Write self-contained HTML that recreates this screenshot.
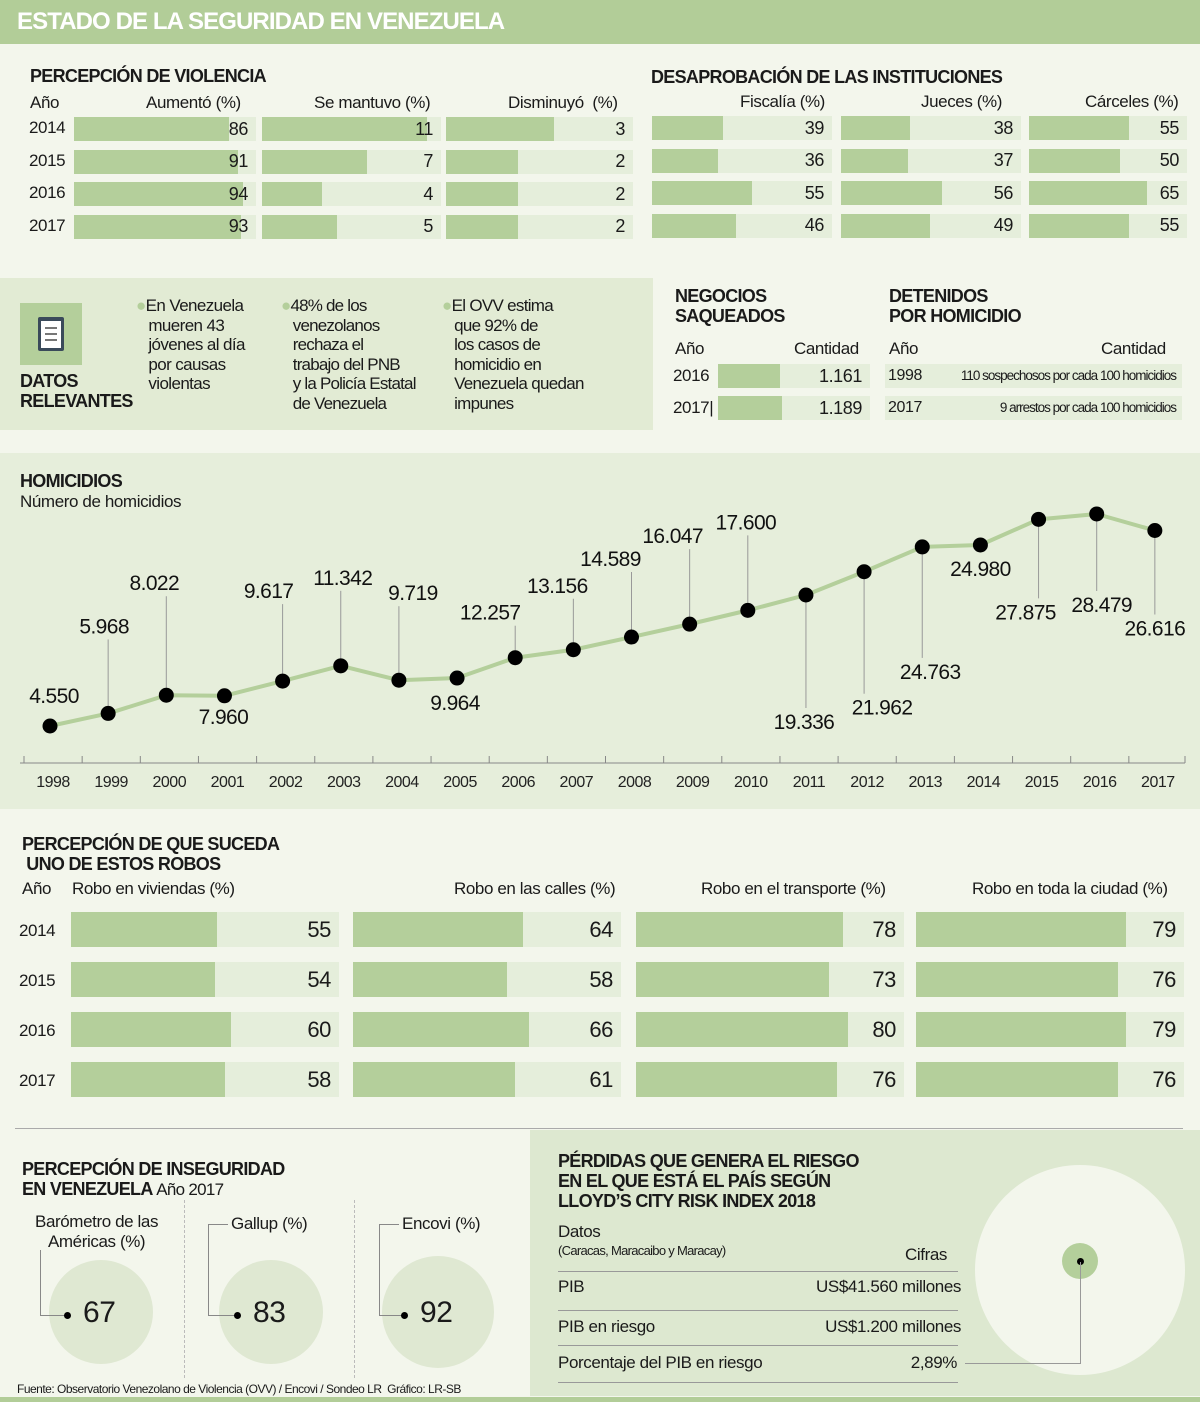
<!DOCTYPE html>
<html><head><meta charset="utf-8">
<style>
*{margin:0;padding:0;box-sizing:border-box}
body{width:1200px;height:1402px;position:relative;background:#f3f6ec;font-family:"Liberation Sans",sans-serif;color:#1a1a1a;overflow:hidden;letter-spacing:-0.4px}
.a{position:absolute;white-space:nowrap}
.t{font-weight:bold;font-size:18px;line-height:20px;letter-spacing:-0.7px}
.h{font-size:17px}
.bar{position:absolute;background:#e5eedb}
.bar .d{position:absolute;left:0;top:0;bottom:0;background:#b4cf9b}
.bar .v{position:absolute;right:6px;top:0;bottom:0;display:flex;align-items:center}
</style></head><body>
<div class="a" style="left:0;top:0;width:1200px;height:44px;background:#b2cd98"></div>
<div class="a" style="left:17px;top:8px;font-size:24px;font-weight:bold;color:#fff;letter-spacing:-0.9px">ESTADO DE LA SEGURIDAD EN VENEZUELA</div>

<div class="a t" style="left:30px;top:66px">PERCEPCIÓN DE VIOLENCIA</div>
<div class="a h" style="left:30px;top:93px">Año</div>
<div class="a h" style="left:146px;top:93px">Aumentó (%)</div>
<div class="a h" style="left:314px;top:93px">Se mantuvo (%)</div>
<div class="a h" style="left:508px;top:93px">Disminuyó &nbsp;(%)</div>
<div class="a t" style="left:651px;top:67px">DESAPROBACIÓN DE LAS INSTITUCIONES</div>
<div class="a h" style="left:740px;top:92px">Fiscalía (%)</div>
<div class="a h" style="left:921px;top:92px">Jueces (%)</div>
<div class="a h" style="left:1085px;top:92px">Cárceles (%)</div>
<div id="topc"></div>

<div class="a" style="left:0;top:278px;width:653px;height:152px;background:#e2ebd4"></div>
<div class="a" style="left:20px;top:303px;width:62px;height:62px;background:#b4cf9b">
<div style="position:absolute;left:18px;top:14px;width:26px;height:34px;background:#3a4a5a;border-radius:2px"></div>
<div style="position:absolute;left:21px;top:18px;width:20px;height:27px;background:#fff"></div>
<div style="position:absolute;left:25px;top:24px;width:12px;height:2px;background:#777"></div>
<div style="position:absolute;left:25px;top:30px;width:12px;height:2px;background:#777"></div>
<div style="position:absolute;left:25px;top:36px;width:12px;height:2px;background:#777"></div></div>
<div class="a t" style="left:20px;top:371px;line-height:20px">DATOS<br>RELEVANTES</div>
<div class="a" style="left:136px;top:296px;font-size:17px;line-height:19.5px;letter-spacing:-0.6px"><span style="color:#b4cf9b">●</span>En Venezuela<br>&nbsp;&nbsp;&nbsp;mueren 43<br>&nbsp;&nbsp;&nbsp;jóvenes al día<br>&nbsp;&nbsp;&nbsp;por causas<br>&nbsp;&nbsp;&nbsp;violentas</div>
<div class="a" style="left:281px;top:296px;font-size:17px;line-height:19.5px;letter-spacing:-0.8px"><span style="color:#b4cf9b">●</span>48% de los<br>&nbsp;&nbsp;&nbsp;venezolanos<br>&nbsp;&nbsp;&nbsp;rechaza el<br>&nbsp;&nbsp;&nbsp;trabajo del PNB<br>&nbsp;&nbsp;&nbsp;y la Policía Estatal<br>&nbsp;&nbsp;&nbsp;de Venezuela</div>
<div class="a" style="left:442px;top:296px;font-size:17px;line-height:19.5px;letter-spacing:-0.7px"><span style="color:#b4cf9b">●</span>El OVV estima<br>&nbsp;&nbsp;&nbsp;que 92% de<br>&nbsp;&nbsp;&nbsp;los casos de<br>&nbsp;&nbsp;&nbsp;homicidio en<br>&nbsp;&nbsp;&nbsp;Venezuela quedan<br>&nbsp;&nbsp;&nbsp;impunes</div>

<div class="a t" style="left:675px;top:286px">NEGOCIOS<br>SAQUEADOS</div>
<div class="a h" style="left:675px;top:339px">Año</div>
<div class="a h" style="left:794px;top:339px">Cantidad</div>
<div class="a h" style="left:673px;top:366px">2016</div>
<div class="a h" style="left:673px;top:398px">2017|</div>
<div id="neg"></div>
<div class="a t" style="left:889px;top:286px">DETENIDOS<br>POR HOMICIDIO</div>
<div class="a h" style="left:889px;top:339px">Año</div>
<div class="a h" style="left:1101px;top:339px">Cantidad</div>
<div class="a" style="left:885px;top:364px;width:297px;height:24px;background:#e5eedb;line-height:24px"><span style="position:absolute;left:3px;font-size:16px">1998</span><span style="position:absolute;right:6px;letter-spacing:-1px;font-size:13.5px">110 sospechosos por cada 100 homicidios</span></div>
<div class="a" style="left:885px;top:396px;width:297px;height:24px;background:#e5eedb;line-height:24px"><span style="position:absolute;left:3px;font-size:16px">2017</span><span style="position:absolute;right:6px;letter-spacing:-1px;font-size:13.5px">9 arrestos por cada 100 homicidios</span></div>

<div class="a" style="left:0;top:453px;width:1200px;height:356px;background:#e6eedb"></div>
<div class="a t" style="left:20px;top:471px">HOMICIDIOS</div>
<div class="a h" style="left:20px;top:492px">Número de homicidios</div>
<svg class="a" id="hsvg" style="left:0;top:0" width="1200" height="1402"></svg>

<div class="a t" style="left:22px;top:834px">PERCEPCIÓN DE QUE SUCEDA<br>&nbsp;UNO DE ESTOS ROBOS</div>
<div class="a h" style="left:22px;top:879px">Año</div>
<div class="a h" style="left:72px;top:879px">Robo en viviendas (%)</div>
<div class="a h" style="left:454px;top:879px">Robo en las calles (%)</div>
<div class="a h" style="left:701px;top:879px">Robo en el transporte (%)</div>
<div class="a h" style="left:972px;top:879px">Robo en toda la ciudad (%)</div>
<div id="robos"></div>
<div class="a" style="left:15px;top:1128px;width:1168px;height:1px;background:#aaa"></div>

<div class="a t" style="left:22px;top:1159px">PERCEPCIÓN DE INSEGURIDAD<br>EN VENEZUELA <span style="font-weight:normal;font-size:17px">Año 2017</span></div>
<div class="a" style="left:184px;top:1200px;height:178px;border-left:1px dashed #bbb"></div>
<div class="a" style="left:354px;top:1200px;height:178px;border-left:1px dashed #bbb"></div>
<div id="ins"></div>
<div class="a" style="left:17px;top:1382px;font-size:12px;letter-spacing:-0.5px">Fuente: Observatorio Venezolano de Violencia (OVV) / Encovi / Sondeo LR &nbsp;Gráfico: LR-SB</div>

<div class="a" style="left:530px;top:1130px;width:670px;height:266px;background:#dde8d0"></div>
<div class="a" style="left:975px;top:1165px;width:210px;height:210px;border-radius:50%;background:#f3f6ec"></div>
<div class="a" style="left:1062px;top:1243px;width:36px;height:36px;border-radius:50%;background:#b4cf9b"></div>
<div class="a" style="left:1077px;top:1258px;width:7px;height:7px;border-radius:50%;background:#000"></div>
<div class="a" style="left:1080px;top:1262px;width:1px;height:101px;background:#999"></div>
<div class="a" style="left:965px;top:1363px;width:116px;height:1px;background:#999"></div>
<div class="a t" style="left:558px;top:1151px">PÉRDIDAS QUE GENERA EL RIESGO<br>EN EL QUE ESTÁ EL PAÍS SEGÚN<br>LLOYD’S CITY RISK INDEX 2018</div>
<div class="a h" style="left:558px;top:1222px">Datos</div>
<div class="a" style="left:558px;top:1243px;font-size:13px;letter-spacing:-0.7px">(Caracas, Maracaibo y Maracay)</div>
<div class="a h" style="left:905px;top:1245px">Cifras</div>
<div class="a" style="left:558px;top:1271px;width:400px;height:1px;background:#999"></div>
<div class="a h" style="left:558px;top:1277px">PIB</div>
<div class="a h" style="right:239px;top:1277px">US$41.560 millones</div>
<div class="a" style="left:558px;top:1310px;width:400px;height:1px;background:#999"></div>
<div class="a h" style="left:558px;top:1317px">PIB en riesgo</div>
<div class="a h" style="right:239px;top:1317px">US$1.200 millones</div>
<div class="a" style="left:558px;top:1345px;width:400px;height:1px;background:#999"></div>
<div class="a h" style="left:558px;top:1353px">Porcentaje del PIB en riesgo</div>
<div class="a h" style="right:243px;top:1353px">2,89%</div>
<div class="a" style="left:558px;top:1382px;width:400px;height:1px;background:#999"></div>
<div class="a" style="left:0;top:1397px;width:1200px;height:5px;background:#b2cd98"></div>

<script>
const topYears=["2014","2015","2016","2017"];
const aumento=[86,91,94,93];
const mantuvo=[11,7,4,5];
const disminuyo=[3,2,2,2];
const fiscalia=[39,36,55,46];
const jueces=[38,37,56,49];
const carceles=[55,50,65,55];
const negYears=["2016","2017"];
const negValues=[1161,1189];
const negLabels=["1.161","1.189"];
const hYears=["1998","1999","2000","2001","2002","2003","2004","2005","2006","2007","2008","2009","2010","2011","2012","2013","2014","2015","2016","2017"];
const hValues=[4550,5968,8022,7960,9617,11342,9719,9964,12257,13156,14589,16047,17600,19336,21962,24763,24980,27875,28479,26616];
const hLabels=["4.550","5.968","8.022","7.960","9.617","11.342","9.719","9.964","12.257","13.156","14.589","16.047","17.600","19.336","21.962","24.763","24.980","27.875","28.479","26.616"];
const roboYears=["2014","2015","2016","2017"];
const viviendas=[55,54,60,58];
const calles=[64,58,66,61];
const transporte=[78,73,80,76];
const ciudad=[79,76,79,76];
const insNames=["Barómetro de las Américas (%)","Gallup (%)","Encovi (%)"];
const insValues=[67,83,92];
// label layout (offsets from the point, not data)
const labelDy=[-23,-80,-105,28,-83,-81,-80,32,-38,-57,-71,-81,-81,134,143,132,31,100,98,105];
const labelDx=[4,-4,-12,-1,-14,2,14,-2,-25,-16,-21,-17,-2,-2,18,8,0,-13,5,0];
const hasLeader=[0,1,1,0,1,1,1,0,1,1,1,1,1,1,1,1,0,1,1,1];

function bar(parent,name,x,y,w,h,val,ppu,label,fs){
  const b=document.createElement('div');b.className='bar';
  
  
  b.style.cssText=`left:${x}px;top:${y}px;width:${w}px;height:${h}px`;
  const d=document.createElement('div');d.className='d';d.style.width=Math.min(w,val*ppu)+'px';
  const v=document.createElement('div');v.className='v';v.textContent=label;v.style.fontSize=fs+'px';
  b.appendChild(d);b.appendChild(v);parent.appendChild(b);
}
const topC=document.getElementById('topc');
topYears.forEach((yr,i)=>{
  const y=117+i*32.5;
  const l=document.createElement('div');l.className='a h';l.textContent=yr;l.style.cssText=`left:29px;top:${y+1}px`;
  
  
  topC.appendChild(l);
  bar(topC,'aumento-bar-'+yr,74,y,182,24,aumento[i],1.8,aumento[i],18);
  bar(topC,'mantuvo-bar-'+yr,262,y,179,24,mantuvo[i],15,mantuvo[i],18);
  bar(topC,'disminuyo-bar-'+yr,446,y,187,24,disminuyo[i],36,disminuyo[i],18);
  bar(topC,'fiscalia-bar-'+yr,652,y-1,180,24,fiscalia[i],1.82,fiscalia[i],18);
  bar(topC,'jueces-bar-'+yr,841,y-1,180,24,jueces[i],1.81,jueces[i],18);
  bar(topC,'carceles-bar-'+yr,1029,y-1,158,24,carceles[i],1.81,carceles[i],18);
});
const negC=document.getElementById('neg');
negYears.forEach((yr,i)=>{
  bar(negC,'negocios-bar-'+yr,718,364+i*32,152,24,negValues[i],0.0535,negLabels[i],18);
});
const robC=document.getElementById('robos');
roboYears.forEach((yr,i)=>{
  const y=912+i*50;
  const l=document.createElement('div');l.className='a h';l.textContent=yr;l.style.cssText=`left:19px;top:${y+9}px`;
  
  
  robC.appendChild(l);
  bar(robC,'viviendas-bar-'+yr,71,y,268,35,viviendas[i],2.66,viviendas[i],22);
  bar(robC,'calles-bar-'+yr,353,y,268,35,calles[i],2.66,calles[i],22);
  bar(robC,'transporte-bar-'+yr,636,y,268,35,transporte[i],2.65,transporte[i],22);
  bar(robC,'ciudad-bar-'+yr,916,y,268,35,ciudad[i],2.66,ciudad[i],22);
});
document.querySelectorAll('.bar .v').forEach(v=>v.style.right='8px');

const NS='http://www.w3.org/2000/svg';
const svg=document.getElementById('hsvg');
const xS=i=>50+i*58.15;
const yS=v=>726-(v-4550)*0.00886;
function el(tag,attrs,name){const e=document.createElementNS(NS,tag);for(const k in attrs)e.setAttribute(k,attrs[k]);
  
  
  svg.appendChild(e);return e;}
el('line',{x1:20,y1:763,x2:1185,y2:763,stroke:'#888','stroke-width':1},'x-axis');
hYears.forEach((yr,i)=>{
  const tx=24+i*58.15;
  el('line',{x1:tx,y1:756,x2:tx,y2:763,stroke:'#888','stroke-width':1},'x-tick');
  const t=el('text',{x:xS(i)+3,y:787,'text-anchor':'middle','font-size':16,'letter-spacing':'-0.5','font-family':'Liberation Sans, sans-serif',fill:'#222'},'year-label-'+yr);t.textContent=yr;
});
el('line',{x1:1185,y1:756,x2:1185,y2:763,stroke:'#888','stroke-width':1},'x-tick');
el('polyline',{points:hValues.map((v,i)=>xS(i)+','+yS(v)).join(' '),fill:'none',stroke:'#b4cf9b','stroke-width':4,'stroke-linejoin':'round'},'homicides-line');
hValues.forEach((v,i)=>{
  const x=xS(i),y=yS(v);
  const ly=y+labelDy[i];
  if(hasLeader[i]){
    el('line',{x1:x,y1:y,x2:x,y2:labelDy[i]<0?ly+6:ly-21,stroke:'#999','stroke-width':1},'leader-'+hYears[i]);
  }
  el('circle',{cx:x,cy:y,r:7.5,fill:'#000'},'point-'+hYears[i]);
  const t=el('text',{x:x+labelDx[i],y:ly,'text-anchor':'middle','font-size':21,'letter-spacing':'-0.6','font-family':'Liberation Sans, sans-serif',fill:'#111'},'value-label-'+hYears[i]);
  t.textContent=hLabels[i];
});

const insC=document.getElementById('ins');
const cx=[101,271,438],rr=[52,52,56],lx=[40,208,379];
insValues.forEach((v,i)=>{
  const c=document.createElement('div');c.className='a';
  
  
  c.style.cssText=`left:${cx[i]-rr[i]}px;top:${1312-rr[i]}px;width:${rr[i]*2}px;height:${rr[i]*2}px;border-radius:50%;background:#dfe8d2`;
  insC.appendChild(c);
  const vl=document.createElement('div');vl.className='a';
  
  
  vl.style.cssText=`left:${lx[i]}px;top:${i===0?1250:1224}px;width:${cx[i]-lx[i]-35}px;height:${i===0?66:92}px;border-left:1px solid #888;border-bottom:1px solid #888`;
  insC.appendChild(vl);
  if(i>0){const hl=document.createElement('div');hl.className='a';hl.style.cssText=`left:${lx[i]}px;top:1224px;width:20px;height:1px;background:#888`;
    
    
    insC.appendChild(hl);}
  const dot=document.createElement('div');dot.className='a';dot.style.cssText=`left:${cx[i]-37}px;top:${1312}px;width:7px;height:7px;border-radius:50%;background:#000`;
  
  
  insC.appendChild(dot);
  const n=document.createElement('div');n.className='a';n.textContent=v;n.style.cssText=`left:${cx[i]-18}px;top:${1296}px;font-size:30px`;
  
  
  insC.appendChild(n);
  const lb=document.createElement('div');lb.className='a h';
  
  
  if(i===0){lb.innerHTML='Barómetro de las<br>&nbsp;&nbsp;&nbsp;Américas (%)';lb.style.cssText='left:35px;top:1212px;line-height:20px';}
  else{lb.textContent=insNames[i];lb.style.cssText=`left:${lx[i]+23}px;top:1214px`;}
  insC.appendChild(lb);
});
</script>
</body></html>
